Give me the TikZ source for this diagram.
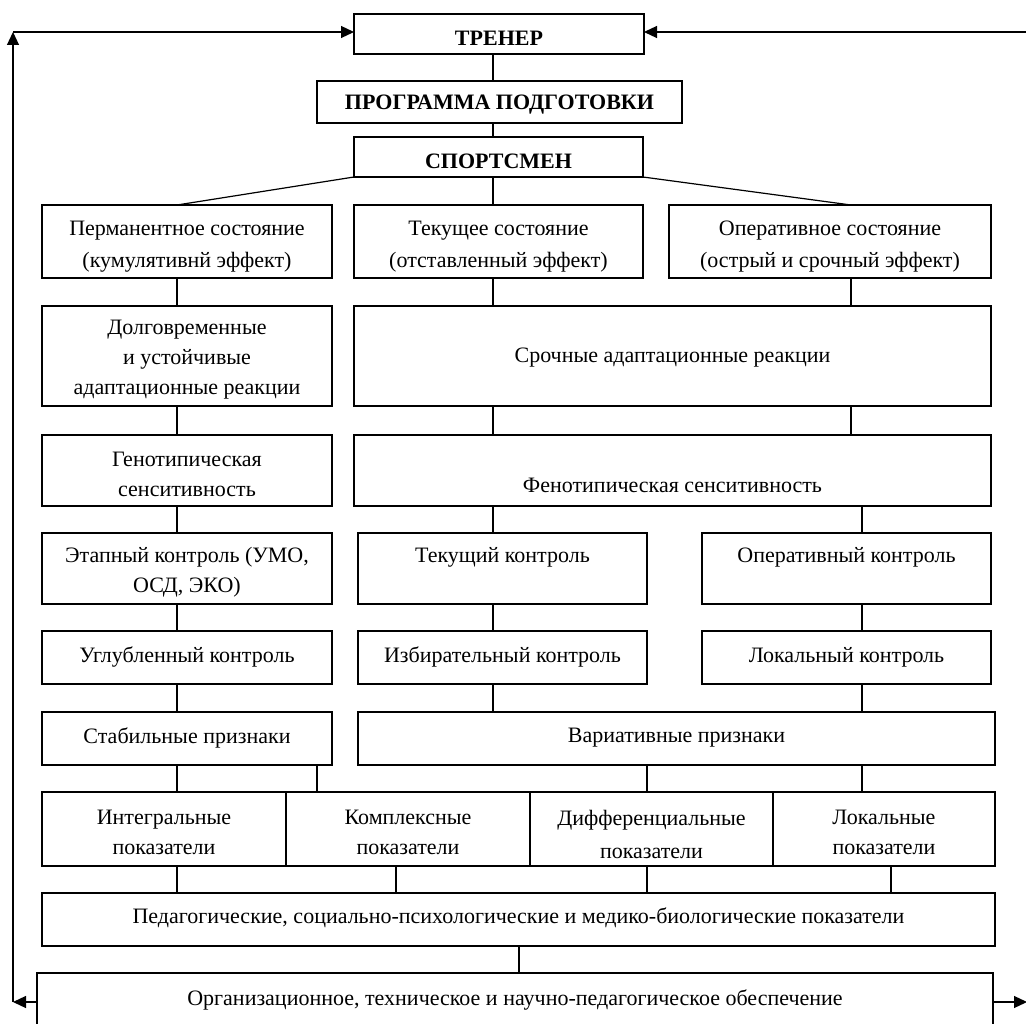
\documentclass[tikz,border=0pt]{standalone}
\usepackage{fontspec}
\setmainfont{Liberation Serif}
\usetikzlibrary{fit,arrows.meta}
\begin{document}
\begin{tikzpicture}[x=1pt,y=-1pt,
  box/.style={draw,line width=1.5pt,inner sep=0pt,outer sep=0pt},
  txt/.style={font=\fontsize{22}{30}\selectfont,align=center,inner sep=0pt,yshift=-3pt},
  head/.style={font=\fontsize{22}{30}\selectfont\bfseries,align=center,inner sep=0pt,yshift=-2pt},
  conn/.style={line width=1.2pt},
  fb/.style={line width=1.2pt,-{Triangle[length=13pt,width=12pt]}}]
\fill[white] (0,0) rectangle (1026,1024);
\useasboundingbox (0,0) rectangle (1026,1024);

% column positions of the vertical links
\coordinate (xA) at (177,0);
\coordinate (xB) at (493,0);
\coordinate (xC) at (851,0);
\coordinate (xD) at (862,0);
\coordinate (xE) at (317,0);
\coordinate (xF) at (396,0);
\coordinate (xG) at (647,0);
\coordinate (xH) at (891,0);
\coordinate (xI) at (519,0);
\coordinate (yb) at (0,1002);
\coordinate (yt) at (0,32);

% top chain
\node[box,fit={(354,14) (644,54)}] (trener) {};
\node[head] at (499,36) {ТРЕНЕР};
\node[box,fit={(317,81) (682,123)}] (prog) {};
\node[head] at (499.5,103) {ПРОГРАММА ПОДГОТОВКИ};
\node[box,fit={(354,137) (643,177)}] (sport) {};
\node[head] at (498.5,159) {СПОРТСМЕН};

% states
\node[box,fit={(42,205) (332,278)}] (perm) {};
\node[txt] at (187,244) {Перманентное состояние\\[2pt](кумулятивнй эффект)};
\node[box,fit={(354,205) (643,278)}] (tek) {};
\node[txt] at (498.5,244) {Текущее состояние\\[2pt](отставленный эффект)};
\node[box,fit={(669,205) (991,278)}] (oper) {};
\node[txt] at (830,244) {Оперативное состояние\\[2pt](острый и срочный эффект)};

% adaptation reactions
\node[box,fit={(42,306) (332,406)}] (dolg) {};
\node[txt] at (187,357) {Долговременные\\и устойчивые\\адаптационные реакции};
\node[box,fit={(354,306) (991,406)}] (sroch) {};
\node[txt] at (672.5,355) {Срочные адаптационные реакции};

% sensitivity
\node[box,fit={(42,435) (332,506)}] (geno) {};
\node[txt] at (187,471) {Генотипическая\\сенситивность};
\node[box,fit={(354,435) (991,506)}] (feno) {};
\node[txt] at (672.5,482) {Фенотипическая сенситивность};

% control kinds
\node[box,fit={(42,533) (332,604)}] (etap) {};
\node[txt] at (187,569) {Этапный контроль (УМО,\\ОСД, ЭКО)};
\node[box,fit={(358,533) (647,604)}] (tekk) {};
\node[txt] at (502.5,554) {Текущий контроль};
\node[box,fit={(702,533) (991,604)}] (operk) {};
\node[txt] at (846.5,554) {Оперативный контроль};

\node[box,fit={(42,631) (332,684)}] (uglub) {};
\node[txt] at (187,654) {Углубленный контроль};
\node[box,fit={(358,631) (647,684)}] (izb) {};
\node[txt] at (502.5,654) {Избирательный контроль};
\node[box,fit={(702,631) (991,684)}] (lok) {};
\node[txt] at (846.5,654) {Локальный контроль};

% signs
\node[box,fit={(42,712) (332,765)}] (stab) {};
\node[txt] at (187,735) {Стабильные признаки};
\node[box,fit={(358,712) (995,765)}] (var) {};
\node[txt] at (676.5,735) {Вариативные признаки};

% indicators
\node[box,fit={(42,792) (286,866)}] (integ) {};
\node[txt] at (164,829) {Интегральные\\показатели};
\node[box,fit={(286,792) (530,866)}] (kompl) {};
\node[txt] at (408,829) {Комплексные\\показатели};
\node[box,fit={(530,792) (773,866)}] (diff) {};
\node[txt] at (651.5,831) {Дифференциальные\\[3pt]показатели};
\node[box,fit={(773,792) (995,866)}] (lokp) {};
\node[txt] at (884,829) {Локальные\\показатели};

\node[box,fit={(42,893) (995,946)}] (ped) {};
\node[txt] at (518.5,915) {Педагогические, социально-психологические и медико-биологические показатели};

\node[box,fit={(37,973) (993,1050)}] (org) {};
\node[txt] at (515,997) {Организационное, техническое и научно-педагогическое обеспечение};

% links of the top chain
\draw[conn] (trener.south -| xB) -- (prog.north -| xB);
\draw[conn] (prog.south -| xB) -- (sport.north -| xB);
\draw[conn] (sport.south west) -- (perm.north -| xA);
\draw[conn] (sport.south -| xB) -- (tek.north -| xB);
\draw[conn] (sport.south east) -- (oper.north -| xC);

% vertical links between the rows
\draw[conn] (perm.south -| xA) -- (dolg.north -| xA);
\draw[conn] (tek.south -| xB) -- (sroch.north -| xB);
\draw[conn] (oper.south -| xC) -- (sroch.north -| xC);

\draw[conn] (dolg.south -| xA) -- (geno.north -| xA);
\draw[conn] (sroch.south -| xB) -- (feno.north -| xB);
\draw[conn] (sroch.south -| xC) -- (feno.north -| xC);

\draw[conn] (geno.south -| xA) -- (etap.north -| xA);
\draw[conn] (feno.south -| xB) -- (tekk.north -| xB);
\draw[conn] (feno.south -| xD) -- (operk.north -| xD);

\draw[conn] (etap.south -| xA) -- (uglub.north -| xA);
\draw[conn] (tekk.south -| xB) -- (izb.north -| xB);
\draw[conn] (operk.south -| xD) -- (lok.north -| xD);

\draw[conn] (uglub.south -| xA) -- (stab.north -| xA);
\draw[conn] (izb.south -| xB) -- (var.north -| xB);
\draw[conn] (lok.south -| xD) -- (var.north -| xD);

\draw[conn] (stab.south -| xA) -- (integ.north -| xA);
\draw[conn] (stab.south -| xE) -- (kompl.north -| xE);
\draw[conn] (var.south -| xG) -- (diff.north -| xG);
\draw[conn] (var.south -| xD) -- (lokp.north -| xD);

\draw[conn] (integ.south -| xA) -- (ped.north -| xA);
\draw[conn] (kompl.south -| xF) -- (ped.north -| xF);
\draw[conn] (diff.south -| xG) -- (ped.north -| xG);
\draw[conn] (lokp.south -| xH) -- (ped.north -| xH);

\draw[conn] (ped.south -| xI) -- (org.north -| xI);

% feedback loops back to the coach
\coordinate (lb) at (13,1002);
\coordinate (lt) at (13,32);
\coordinate (rb) at (1034,1002);
\coordinate (rt) at (1034,32);
\draw[fb] (org.west |- yb) -- (lb);
\draw[fb] (lb) -- (lt);
\draw[fb] (lt) -- (trener.west |- yt);
\draw[fb] (org.east |- yb) -- (1027,1002);
\draw[fb] (rb) -- (rt);
\draw[fb] (rt) -- (trener.east |- yt);
\end{tikzpicture}
\end{document}
